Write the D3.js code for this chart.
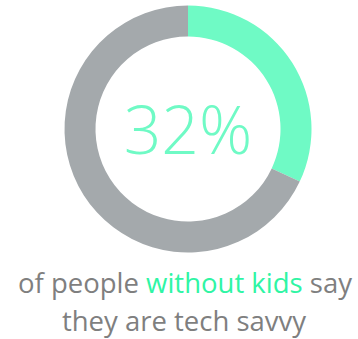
<!DOCTYPE html>
<html>
<head>
<meta charset="utf-8">
<script src="https://cdn.jsdelivr.net/npm/d3@7"></script>
<style>
  html, body { margin: 0; padding: 0; background: #fff; }
  svg { display: block; }
</style>
</head>
<body>
<svg id="chart" width="358" height="339"></svg>
<script>
// Share of people without kids who say they are tech savvy
const categories = ["tech savvy", "other"];
const values = [32, 68];
const headline = "32%";
const captionLine1 = [
  { text: "of people ", accent: false },
  { text: "without kids", accent: true },
  { text: " say", accent: false }
];
const captionLine2 = "they are tech savvy";

const colors = { "tech savvy": "#6ffac5", "other": "#a4a9ac" };
const accentText = "#2ff5a4";
const greyText = "#7f7f7f";
const font = "'Open Sans', 'Noto Sans', sans-serif";

const svg = d3.select("#chart");
const cx = 188, cy = 129;
const outerR = 123.5, innerR = 92.5;

const pie = d3.pie().sort(null).value(d => d.value);
const arcs = pie(categories.map((c, i) => ({ category: c, value: values[i] })));
const arc = d3.arc().innerRadius(innerR).outerRadius(outerR);

const g = svg.append("g").attr("transform", `translate(${cx},${cy})`);
g.selectAll("path")
  .data(arcs)
  .join("path")
  .attr("d", arc)
  .attr("fill", d => colors[d.data.category]);

// Centre figure
g.append("text")
  .attr("x", 0)
  .attr("y", 25)
  .attr("text-anchor", "middle")
  .attr("font-family", font)
  .attr("font-weight", 300)
  .attr("font-size", 66)
  .attr("fill", colors["tech savvy"])
  .text(headline);

// Caption
const captionSize = 27.5;
const line1 = svg.append("text")
  .attr("x", 185)
  .attr("y", 293)
  .attr("text-anchor", "middle")
  .attr("font-family", font)
  .attr("font-weight", 400)
  .attr("font-size", captionSize)
  .attr("fill", greyText);
line1.selectAll("tspan")
  .data(captionLine1)
  .join("tspan")
  .attr("fill", d => d.accent ? accentText : greyText)
  .text(d => d.text);

svg.append("text")
  .attr("x", 184)
  .attr("y", 331)
  .attr("text-anchor", "middle")
  .attr("font-family", font)
  .attr("font-weight", 400)
  .attr("font-size", captionSize)
  .attr("fill", greyText)
  .text(captionLine2);
</script>
</body>
</html>
